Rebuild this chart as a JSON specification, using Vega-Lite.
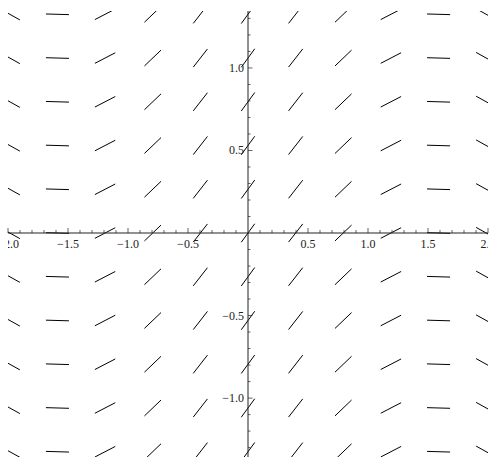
{
  "$schema": "https://vega.github.io/schema/vega-lite/v6.json",
  "width": 480,
  "height": 446,
  "autosize": {"type": "none"},
  "padding": {"left": 8, "top": 11, "right": 1, "bottom": 0},
  "background": "white",
  "config": {"view": {"stroke": null}},
  "datasets": {
    "seg": [
      {"x1":-2.069,"y1":1.359,"x2":-1.901,"y2":1.291},{"x1":-1.684,"y1":1.327,"x2":-1.492,"y2":1.323},{"x1":-1.276,"y1":1.293,"x2":-1.106,"y2":1.357},{"x1":-0.863,"y1":1.277,"x2":-0.725,"y2":1.373},{"x1":-0.456,"y1":1.270,"x2":-0.338,"y2":1.380},{"x1":-0.056,"y1":1.269,"x2":0.056,"y2":1.381},{"x1":0.338,"y1":1.270,"x2":0.456,"y2":1.380},{"x1":0.725,"y1":1.277,"x2":0.863,"y2":1.373},{"x1":1.106,"y1":1.293,"x2":1.276,"y2":1.357},{"x1":1.492,"y1":1.327,"x2":1.684,"y2":1.323},{"x1":1.901,"y1":1.359,"x2":2.069,"y2":1.291},
      {"x1":-2.069,"y1":1.094,"x2":-1.901,"y2":1.026},{"x1":-1.684,"y1":1.062,"x2":-1.492,"y2":1.058},{"x1":-1.276,"y1":1.028,"x2":-1.106,"y2":1.092},{"x1":-0.863,"y1":1.012,"x2":-0.725,"y2":1.108},{"x1":-0.456,"y1":1.005,"x2":-0.338,"y2":1.115},{"x1":-0.056,"y1":1.004,"x2":0.056,"y2":1.116},{"x1":0.338,"y1":1.005,"x2":0.456,"y2":1.115},{"x1":0.725,"y1":1.012,"x2":0.863,"y2":1.108},{"x1":1.106,"y1":1.028,"x2":1.276,"y2":1.092},{"x1":1.492,"y1":1.062,"x2":1.684,"y2":1.058},{"x1":1.901,"y1":1.094,"x2":2.069,"y2":1.026},
      {"x1":-2.069,"y1":0.829,"x2":-1.901,"y2":0.761},{"x1":-1.684,"y1":0.797,"x2":-1.492,"y2":0.793},{"x1":-1.276,"y1":0.763,"x2":-1.106,"y2":0.827},{"x1":-0.863,"y1":0.747,"x2":-0.725,"y2":0.843},{"x1":-0.456,"y1":0.740,"x2":-0.338,"y2":0.850},{"x1":-0.056,"y1":0.739,"x2":0.056,"y2":0.851},{"x1":0.338,"y1":0.740,"x2":0.456,"y2":0.850},{"x1":0.725,"y1":0.747,"x2":0.863,"y2":0.843},{"x1":1.106,"y1":0.763,"x2":1.276,"y2":0.827},{"x1":1.492,"y1":0.797,"x2":1.684,"y2":0.793},{"x1":1.901,"y1":0.829,"x2":2.069,"y2":0.761},
      {"x1":-2.069,"y1":0.564,"x2":-1.901,"y2":0.496},{"x1":-1.684,"y1":0.532,"x2":-1.492,"y2":0.528},{"x1":-1.276,"y1":0.498,"x2":-1.106,"y2":0.562},{"x1":-0.863,"y1":0.482,"x2":-0.725,"y2":0.578},{"x1":-0.456,"y1":0.475,"x2":-0.338,"y2":0.585},{"x1":-0.056,"y1":0.474,"x2":0.056,"y2":0.586},{"x1":0.338,"y1":0.475,"x2":0.456,"y2":0.585},{"x1":0.725,"y1":0.482,"x2":0.863,"y2":0.578},{"x1":1.106,"y1":0.498,"x2":1.276,"y2":0.562},{"x1":1.492,"y1":0.532,"x2":1.684,"y2":0.528},{"x1":1.901,"y1":0.564,"x2":2.069,"y2":0.496},
      {"x1":-2.069,"y1":0.299,"x2":-1.901,"y2":0.231},{"x1":-1.684,"y1":0.267,"x2":-1.492,"y2":0.263},{"x1":-1.276,"y1":0.233,"x2":-1.106,"y2":0.297},{"x1":-0.863,"y1":0.217,"x2":-0.725,"y2":0.313},{"x1":-0.456,"y1":0.210,"x2":-0.338,"y2":0.320},{"x1":-0.056,"y1":0.209,"x2":0.056,"y2":0.321},{"x1":0.338,"y1":0.210,"x2":0.456,"y2":0.320},{"x1":0.725,"y1":0.217,"x2":0.863,"y2":0.313},{"x1":1.106,"y1":0.233,"x2":1.276,"y2":0.297},{"x1":1.492,"y1":0.267,"x2":1.684,"y2":0.263},{"x1":1.901,"y1":0.299,"x2":2.069,"y2":0.231},
      {"x1":-2.069,"y1":0.034,"x2":-1.901,"y2":-0.034},{"x1":-1.684,"y1":0.002,"x2":-1.492,"y2":-0.002},{"x1":-1.276,"y1":-0.032,"x2":-1.106,"y2":0.032},{"x1":-0.863,"y1":-0.048,"x2":-0.725,"y2":0.048},{"x1":-0.456,"y1":-0.055,"x2":-0.338,"y2":0.055},{"x1":-0.056,"y1":-0.056,"x2":0.056,"y2":0.056},{"x1":0.338,"y1":-0.055,"x2":0.456,"y2":0.055},{"x1":0.725,"y1":-0.048,"x2":0.863,"y2":0.048},{"x1":1.106,"y1":-0.032,"x2":1.276,"y2":0.032},{"x1":1.492,"y1":0.002,"x2":1.684,"y2":-0.002},{"x1":1.901,"y1":0.034,"x2":2.069,"y2":-0.034},
      {"x1":-2.069,"y1":-0.231,"x2":-1.901,"y2":-0.299},{"x1":-1.684,"y1":-0.263,"x2":-1.492,"y2":-0.267},{"x1":-1.276,"y1":-0.297,"x2":-1.106,"y2":-0.233},{"x1":-0.863,"y1":-0.313,"x2":-0.725,"y2":-0.217},{"x1":-0.456,"y1":-0.320,"x2":-0.338,"y2":-0.210},{"x1":-0.056,"y1":-0.321,"x2":0.056,"y2":-0.209},{"x1":0.338,"y1":-0.320,"x2":0.456,"y2":-0.210},{"x1":0.725,"y1":-0.313,"x2":0.863,"y2":-0.217},{"x1":1.106,"y1":-0.297,"x2":1.276,"y2":-0.233},{"x1":1.492,"y1":-0.263,"x2":1.684,"y2":-0.267},{"x1":1.901,"y1":-0.231,"x2":2.069,"y2":-0.299},
      {"x1":-2.069,"y1":-0.496,"x2":-1.901,"y2":-0.564},{"x1":-1.684,"y1":-0.528,"x2":-1.492,"y2":-0.532},{"x1":-1.276,"y1":-0.562,"x2":-1.106,"y2":-0.498},{"x1":-0.863,"y1":-0.578,"x2":-0.725,"y2":-0.482},{"x1":-0.456,"y1":-0.585,"x2":-0.338,"y2":-0.475},{"x1":-0.056,"y1":-0.586,"x2":0.056,"y2":-0.474},{"x1":0.338,"y1":-0.585,"x2":0.456,"y2":-0.475},{"x1":0.725,"y1":-0.578,"x2":0.863,"y2":-0.482},{"x1":1.106,"y1":-0.562,"x2":1.276,"y2":-0.498},{"x1":1.492,"y1":-0.528,"x2":1.684,"y2":-0.532},{"x1":1.901,"y1":-0.496,"x2":2.069,"y2":-0.564},
      {"x1":-2.069,"y1":-0.761,"x2":-1.901,"y2":-0.829},{"x1":-1.684,"y1":-0.793,"x2":-1.492,"y2":-0.797},{"x1":-1.276,"y1":-0.827,"x2":-1.106,"y2":-0.763},{"x1":-0.863,"y1":-0.843,"x2":-0.725,"y2":-0.747},{"x1":-0.456,"y1":-0.850,"x2":-0.338,"y2":-0.740},{"x1":-0.056,"y1":-0.851,"x2":0.056,"y2":-0.739},{"x1":0.338,"y1":-0.850,"x2":0.456,"y2":-0.740},{"x1":0.725,"y1":-0.843,"x2":0.863,"y2":-0.747},{"x1":1.106,"y1":-0.827,"x2":1.276,"y2":-0.763},{"x1":1.492,"y1":-0.793,"x2":1.684,"y2":-0.797},{"x1":1.901,"y1":-0.761,"x2":2.069,"y2":-0.829},
      {"x1":-2.069,"y1":-1.026,"x2":-1.901,"y2":-1.094},{"x1":-1.684,"y1":-1.058,"x2":-1.492,"y2":-1.062},{"x1":-1.276,"y1":-1.092,"x2":-1.106,"y2":-1.028},{"x1":-0.863,"y1":-1.108,"x2":-0.725,"y2":-1.012},{"x1":-0.456,"y1":-1.115,"x2":-0.338,"y2":-1.005},{"x1":-0.056,"y1":-1.116,"x2":0.056,"y2":-1.004},{"x1":0.338,"y1":-1.115,"x2":0.456,"y2":-1.005},{"x1":0.725,"y1":-1.108,"x2":0.863,"y2":-1.012},{"x1":1.106,"y1":-1.092,"x2":1.276,"y2":-1.028},{"x1":1.492,"y1":-1.058,"x2":1.684,"y2":-1.062},{"x1":1.901,"y1":-1.026,"x2":2.069,"y2":-1.094},
      {"x1":-2.069,"y1":-1.291,"x2":-1.901,"y2":-1.359},{"x1":-1.684,"y1":-1.323,"x2":-1.492,"y2":-1.327},{"x1":-1.276,"y1":-1.357,"x2":-1.106,"y2":-1.293},{"x1":-0.863,"y1":-1.373,"x2":-0.725,"y2":-1.277},{"x1":-0.456,"y1":-1.380,"x2":-0.338,"y2":-1.270},{"x1":-0.056,"y1":-1.381,"x2":0.056,"y2":-1.269},{"x1":0.338,"y1":-1.380,"x2":0.456,"y2":-1.270},{"x1":0.725,"y1":-1.373,"x2":0.863,"y2":-1.277},{"x1":1.106,"y1":-1.357,"x2":1.276,"y2":-1.293},{"x1":1.492,"y1":-1.323,"x2":1.684,"y2":-1.327},{"x1":1.901,"y1":-1.291,"x2":2.069,"y2":-1.359}
    ],
    "xmin": [{"v":-1.9},{"v":-1.8},{"v":-1.7},{"v":-1.6},{"v":-1.4},{"v":-1.3},{"v":-1.2},{"v":-1.1},{"v":-0.9},{"v":-0.8},{"v":-0.7},{"v":-0.6},{"v":-0.4},{"v":-0.3},{"v":-0.2},{"v":-0.1},{"v":0.1},{"v":0.2},{"v":0.3},{"v":0.4},{"v":0.6},{"v":0.7},{"v":0.8},{"v":0.9},{"v":1.1},{"v":1.2},{"v":1.3},{"v":1.4},{"v":1.6},{"v":1.7},{"v":1.8},{"v":1.9}],
    "xmaj": [{"v":-2,"t":"−2.0"},{"v":-1.5,"t":"−1.5"},{"v":-1,"t":"−1.0"},{"v":-0.5,"t":"−0.5"},{"v":0.5,"t":"0.5"},{"v":1,"t":"1.0"},{"v":1.5,"t":"1.5"},{"v":2,"t":"2.0"}],
    "ymin": [{"v":-1.3},{"v":-1.2},{"v":-1.1},{"v":-0.9},{"v":-0.8},{"v":-0.7},{"v":-0.6},{"v":-0.4},{"v":-0.3},{"v":-0.2},{"v":-0.1},{"v":0.1},{"v":0.2},{"v":0.3},{"v":0.4},{"v":0.6},{"v":0.7},{"v":0.8},{"v":0.9},{"v":1.1},{"v":1.2},{"v":1.3}],
    "ymaj": [{"v":-1,"t":"−1.0"},{"v":-0.5,"t":"−0.5"},{"v":0.5,"t":"0.5"},{"v":1,"t":"1.0"}]
  },
  "layer": [
    {
      "data": {"name": "seg"},
      "mark": {"type": "rule", "color": "black", "strokeWidth": 1, "clip": true},
      "encoding": {
        "x": {"field": "x1", "type": "quantitative", "scale": {"domain": [-2, 2], "nice": false, "zero": false}, "axis": null},
        "x2": {"field": "x2"},
        "y": {"field": "y1", "type": "quantitative", "scale": {"domain": [-1.357, 1.345], "nice": false, "zero": false}, "axis": null},
        "y2": {"field": "y2"}
      }
    },
    {
      "data": {"values": [{}]},
      "mark": {"type": "rule", "color": "#222", "strokeWidth": 1},
      "encoding": {"y": {"datum": 0, "type": "quantitative"}}
    },
    {
      "data": {"values": [{}]},
      "mark": {"type": "rule", "color": "#222", "strokeWidth": 1},
      "encoding": {"x": {"datum": 0, "type": "quantitative"}}
    },
    {
      "data": {"name": "xmin"},
      "mark": {"type": "tick", "orient": "vertical", "color": "#222", "size": 3, "thickness": 1, "yOffset": -1.5},
      "encoding": {"x": {"field": "v", "type": "quantitative"}, "y": {"datum": 0, "type": "quantitative"}}
    },
    {
      "data": {"name": "xmaj"},
      "mark": {"type": "tick", "orient": "vertical", "color": "#222", "size": 5, "thickness": 1, "yOffset": -2.5},
      "encoding": {"x": {"field": "v", "type": "quantitative"}, "y": {"datum": 0, "type": "quantitative"}}
    },
    {
      "data": {"name": "ymin"},
      "mark": {"type": "tick", "orient": "horizontal", "color": "#222", "size": 2.5, "thickness": 1, "xOffset": 1.25},
      "encoding": {"y": {"field": "v", "type": "quantitative"}, "x": {"datum": 0, "type": "quantitative"}}
    },
    {
      "data": {"name": "ymaj"},
      "mark": {"type": "tick", "orient": "horizontal", "color": "#222", "size": 4.5, "thickness": 1, "xOffset": 2.25},
      "encoding": {"y": {"field": "v", "type": "quantitative"}, "x": {"datum": 0, "type": "quantitative"}}
    },
    {
      "data": {"name": "xmaj"},
      "mark": {"type": "text", "font": "Liberation Serif", "fontSize": 12, "color": "#222", "align": "center", "baseline": "alphabetic", "dy": 15, "clip": true},
      "encoding": {"x": {"field": "v", "type": "quantitative"}, "y": {"datum": 0, "type": "quantitative"}, "text": {"field": "t"}}
    },
    {
      "data": {"name": "ymaj"},
      "mark": {"type": "text", "font": "Liberation Serif", "fontSize": 12, "color": "#222", "align": "right", "baseline": "middle", "dx": -4},
      "encoding": {"y": {"field": "v", "type": "quantitative"}, "x": {"datum": 0, "type": "quantitative"}, "text": {"field": "t"}}
    }
  ]
}
